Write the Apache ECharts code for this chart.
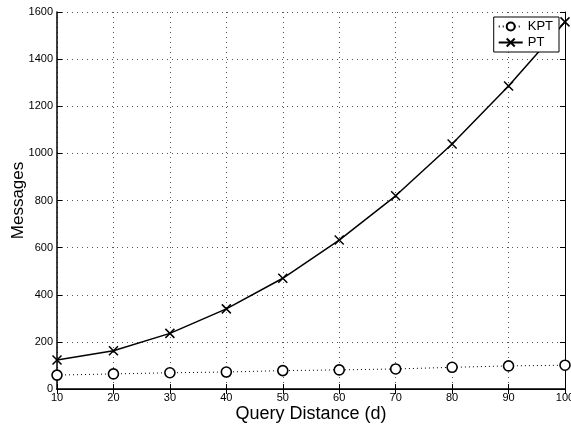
<html>
<head>
    <meta http-equiv="Content-Type" content="text/html; charset=utf-8">
    <script type="text/javascript" src="https://cdn.jsdelivr.net/npm/echarts@6/dist/echarts.min.js"></script>
    <style>
        body{ margin:0; background:#fff; }
        #main{ width:571px; height:424px; }
    </style>
</head>
<body>
<div id="main"></div>
<script type="text/javascript">
    var distances = [10, 20, 30, 40, 50, 60, 70, 80, 90, 100];
    var kptMessages = [59, 64, 69, 72, 78, 81, 85, 92, 98, 101];
    var ptMessages = [123, 162, 236, 340, 470, 632, 820, 1040, 1286, 1558];

    function pairs(ys){
        var out = [];
        for (var i = 0; i < distances.length; i++) out.push([distances[i], ys[i]]);
        return out;
    }

    var font = 'Liberation Sans, Arial, sans-serif';
    var crossPath = 'path://M0,0L10,10M10,0L0,10';
    var tickStyle = { show: true, inside: true, length: 5, lineStyle: { color: '#000', width: 1 } };
    var gridStyle = { show: true, lineStyle: { color: '#555', type: [1, 4], width: 1 } };

    var option = {
        animation: false,
        grid: { left: 57, right: 6, top: 12, bottom: 35, containLabel: false, outerBoundsMode: 'none' },
        legend: {
            right: 12, top: 17,
            orient: 'vertical',
            backgroundColor: '#fff',
            borderColor: '#000', borderWidth: 1,
            padding: [3, 6, 3, 4],
            itemGap: 3,
            itemWidth: 24, itemHeight: 10,
            textStyle: { fontFamily: font, fontSize: 13, color: '#000' },
            data: ['KPT', 'PT']
        },
        xAxis: [
            {
                type: 'value', min: 10, max: 100, interval: 10,
                name: 'Query Distance (d)', nameLocation: 'middle', nameGap: 16,
                nameMoveOverlap: false,
                nameTextStyle: { fontFamily: font, fontSize: 18, color: '#000' },
                axisLine: { show: true, lineStyle: { color: '#000', width: 1.5 } },
                axisTick: tickStyle,
                axisLabel: { fontFamily: font, fontSize: 11, color: '#000', margin: 3 },
                splitLine: gridStyle
            },
            {
                type: 'value', min: 10, max: 100, interval: 10, position: 'top',
                axisLine: { show: true, lineStyle: { color: '#000', width: 1 } },
                axisTick: tickStyle, axisLabel: { show: false }, splitLine: { show: false }
            }
        ],
        yAxis: [
            {
                type: 'value', min: 0, max: 1600, interval: 200,
                name: 'Messages', nameLocation: 'middle', nameGap: 30,
                nameMoveOverlap: false,
                nameTextStyle: { fontFamily: font, fontSize: 17, color: '#000' },
                axisLine: { show: true, lineStyle: { color: '#000', width: 1.5 } },
                axisTick: tickStyle,
                axisLabel: { fontFamily: font, fontSize: 11, color: '#000', margin: 4,
                    formatter: function(v){ return String(v); } },
                splitLine: gridStyle
            },
            {
                type: 'value', min: 0, max: 1600, interval: 200, position: 'right',
                axisLine: { show: true, lineStyle: { color: '#000', width: 1 } },
                axisTick: tickStyle, axisLabel: { show: false }, splitLine: { show: false }
            }
        ],
        series: [
            {
                name: 'KPT', type: 'line',
                data: pairs(kptMessages),
                symbol: 'circle', symbolSize: 10,
                lineStyle: { color: '#000', width: 1, type: [1, 3] },
                itemStyle: { color: '#fff', borderColor: '#000', borderWidth: 1.6 }
            },
            {
                name: 'PT', type: 'line',
                data: pairs(ptMessages),
                symbol: crossPath, symbolSize: 9,
                lineStyle: { color: '#000', width: 1.5 },
                itemStyle: { color: '#000', borderColor: '#000', borderWidth: 1.5 }
            }
        ]
    };

    var myChart = echarts.init(document.getElementById('main'));
    myChart.setOption(option);
</script>
</body>
</html>
